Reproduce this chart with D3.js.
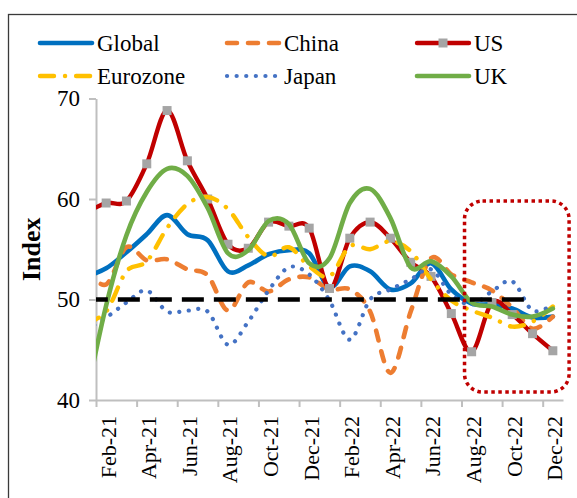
<!DOCTYPE html>
<html>
<head>
<meta charset="utf-8">
<script src="https://cdn.jsdelivr.net/npm/d3@7"></script>
<style>
  body { margin: 0; background: #fff; }
  svg, svg text { font-family: 'Liberation Serif', 'Times New Roman', 'DejaVu Serif', serif; }
</style>
</head>
<body>
<div id="chart"></div>
<script>
// Monthly composite index, Jan-21 .. Dec-22 (Jan-21 sits just left of the axis and is clipped)
const months = ["Jan-21","Feb-21","Mar-21","Apr-21","May-21","Jun-21","Jul-21","Aug-21","Sep-21","Oct-21","Nov-21","Dec-21",
                "Jan-22","Feb-22","Mar-22","Apr-22","May-22","Jun-22","Jul-22","Aug-22","Sep-22","Oct-22","Nov-22","Dec-22"];

const globalVals   = [52.3, 53.1, 54.7, 56.5, 58.4, 56.5, 55.9, 52.8, 53.4, 54.5, 54.9, 54.6, 51.2, 53.3, 52.8, 51.0, 51.6, 53.6, 51.0, 49.6, 49.5, 49.1, 48.2, 48.3];
const chinaVals    = [53.0, 51.5, 55.2, 53.9, 54.0, 53.0, 52.4, 48.9, 51.7, 50.8, 52.0, 52.2, 51.0, 51.0, 48.8, 42.7, 48.8, 54.1, 52.5, 51.7, 50.9, 49.2, 47.1, 48.3];
const usVals       = [58.6, 59.6, 59.8, 63.5, 68.8, 63.8, 60.0, 55.5, 55.1, 57.7, 57.3, 57.1, 51.1, 56.1, 57.7, 56.1, 53.7, 52.3, 48.6, 44.8, 49.7, 48.5, 46.6, 44.9];
const eurozoneVals = [47.7, 48.8, 52.8, 53.8, 57.1, 59.5, 60.2, 59.0, 56.2, 54.3, 55.2, 53.3, 52.3, 55.3, 55.0, 55.8, 54.8, 52.0, 49.9, 48.9, 48.2, 47.3, 47.8, 49.3];
const japanVals    = [47.0, 48.2, 49.7, 50.9, 48.8, 48.9, 48.8, 45.5, 47.8, 50.9, 53.2, 52.5, 49.9, 46.0, 50.0, 51.0, 52.0, 53.0, 50.5, 49.5, 50.8, 51.8, 48.9, 49.5];
const ukVals       = [40.0, 49.4, 56.4, 60.7, 63.0, 62.3, 59.1, 54.6, 54.9, 57.8, 57.5, 53.6, 54.1, 59.6, 61.0, 58.1, 53.2, 53.8, 52.3, 49.7, 49.3, 48.5, 48.3, 49.1];
const threshold    = 50;      // expansion / contraction line, drawn Jan-21 .. Nov-22
const thresholdEnd = 22;

const yTicks = [40, 50, 60, 70];
const labelIdx = d3.range(1, 24, 2);          // Feb-21, Apr-21, ... Dec-22
const tickIdx = d3.range(0.5, 23, 2);          // category boundaries every 2 months
const highlight = { from: 18.65, to: 23.8, top: 59.8, bottom: 40.8 };  // last months box

const FONT = "'Liberation Serif', 'Times New Roman', 'DejaVu Serif', serif";

const series = [
  { name: "Global",   values: globalVals,   color: "#0070C0", width: 4.6, dash: null, cap: "round" },
  { name: "China",    values: chinaVals,    color: "#ED7D31", width: 4.6, dash: "10,11", cap: "round" },
  { name: "US",       values: usVals,       color: "#C00000", width: 4.4, dash: null, cap: "round", marker: "#A5A5A5" },
  { name: "Eurozone", values: eurozoneVals, color: "#FFC000", width: 4.4, dash: "14,11,0.1,11", cap: "round" },
  { name: "Japan",    values: japanVals,    color: "#4472C4", width: 4.2, dash: "0.1,9.5", cap: "round" },
  { name: "UK",       values: ukVals,       color: "#70AD47", width: 4.6, dash: null, cap: "round" }
];

const width = 577, height = 498;
const plotLeft = 96, plotRight = 563, plotTop = 98.5, plotBottom = 400;

const svg = d3.select("#chart").append("svg")
  .attr("width", width)
  .attr("height", height)
  .attr("font-family", FONT);

// outer frame
svg.append("rect")
  .attr("x", 8.5).attr("y", 14.5)
  .attr("width", 620).attr("height", 600)
  .attr("fill", "none")
  .attr("stroke", "#3a3a3a")
  .attr("stroke-width", 1.3);

// Scales
const x = d3.scaleLinear().domain([0.5, 23.5]).range([plotLeft, plotRight]);
const y = d3.scaleLinear().domain([40, 70]).range([plotBottom, plotTop]);

// Axes
const yAxis = svg.append("g")
  .attr("transform", `translate(${plotLeft},0)`)
  .call(d3.axisLeft(y).tickValues(yTicks).tickSize(7).tickPadding(9).tickSizeOuter(0));
yAxis.attr("font-family", FONT).attr("font-size", 23);
yAxis.select(".domain").attr("stroke", "#BFBFBF").attr("stroke-width", 2);
yAxis.selectAll(".tick line").attr("stroke", "#BFBFBF").attr("stroke-width", 2);
yAxis.selectAll(".tick text").attr("fill", "#000");

const xAxis = svg.append("g")
  .attr("transform", `translate(0,${plotBottom})`)
  .call(d3.axisBottom(x).tickValues(tickIdx).tickSize(7).tickSizeOuter(0).tickFormat(""));
xAxis.select(".domain").attr("stroke", "#BFBFBF").attr("stroke-width", 2);
xAxis.selectAll(".tick line").attr("stroke", "#BFBFBF").attr("stroke-width", 2);

const xLabels = svg.append("g")
  .attr("transform", `translate(0,${plotBottom})`)
  .call(d3.axisBottom(x).tickValues(labelIdx).tickSize(0).tickFormat(i => months[i]));
xLabels.attr("font-family", FONT).attr("font-size", 22);
xLabels.select(".domain").remove();
xLabels.selectAll(".tick text")
  .attr("transform", "rotate(-90)")
  .attr("x", -16)
  .attr("y", 1)
  .attr("dy", "0.36em")
  .attr("text-anchor", "end")
  .attr("fill", "#000");

// Y axis title
svg.append("text")
  .attr("transform", "rotate(-90)")
  .attr("x", -(plotTop + plotBottom) / 2)
  .attr("y", 40)
  .attr("text-anchor", "middle")
  .attr("font-size", 26)
  .attr("font-weight", "bold")
  .text("Index");

// Lines
svg.append("clipPath").attr("id", "plot-clip")
  .append("rect")
  .attr("x", plotLeft).attr("y", 60)
  .attr("width", plotRight - plotLeft + 4).attr("height", plotBottom - 60);

const plot = svg.append("g").attr("clip-path", "url(#plot-clip)");

const line = d3.line()
  .x((d, i) => x(i))
  .y(d => y(d))
  .curve(d3.curveCardinal.tension(0));

series.forEach(s => {
  plot.append("path")
    .datum(s.values)
    .attr("fill", "none")
    .attr("stroke", s.color)
    .attr("stroke-width", s.width)
    .attr("stroke-linecap", s.cap)
    .attr("stroke-linejoin", "round")
    .attr("stroke-dasharray", s.dash)
    .attr("d", line);

  if (s.marker) {
    plot.selectAll(null)
      .data(s.values)
      .enter()
      .append("rect")
      .attr("x", (d, i) => x(i) - 4.5)
      .attr("y", d => y(d) - 4.5)
      .attr("width", 9)
      .attr("height", 9)
      .attr("fill", s.marker);
  }
});

// 50 threshold line
plot.append("path")
  .datum(d3.range(0, thresholdEnd + 1).map(() => threshold))
  .attr("fill", "none")
  .attr("stroke", "#000")
  .attr("stroke-width", 4.5)
  .attr("stroke-dasharray", "22,10")
  .attr("d", d3.line().x((d, i) => x(i)).y(d => y(d)));

// highlight box
svg.append("rect")
  .attr("x", x(highlight.from))
  .attr("y", y(highlight.top))
  .attr("width", x(highlight.to) - x(highlight.from))
  .attr("height", y(highlight.bottom) - y(highlight.top))
  .attr("rx", 18).attr("ry", 18)
  .attr("fill", "none")
  .attr("stroke", "#C00000")
  .attr("stroke-width", 3.5)
  .attr("stroke-dasharray", "3.5,3.5");

// Legend (3 columns x 2 rows)
const legendCols = [38, 225, 415];
const legendRows = [43, 76];
const legend = svg.append("g");

series.forEach((s, i) => {
  const lx = legendCols[i % 3];
  const ly = legendRows[Math.floor(i / 3)];
  const g = legend.append("g").attr("transform", `translate(${lx},${ly})`);
  g.append("line")
    .attr("x1", 2).attr("x2", 54)
    .attr("y1", 0).attr("y2", 0)
    .attr("stroke", s.color)
    .attr("stroke-width", s.width)
    .attr("stroke-linecap", s.cap)
    .attr("stroke-dasharray", s.dash);
  if (s.marker) {
    g.append("rect")
      .attr("x", 28 - 4.5).attr("y", -4.5)
      .attr("width", 9).attr("height", 9)
      .attr("fill", s.marker);
  }
  g.append("text")
    .attr("x", 59)
    .attr("y", 0)
    .attr("dy", "0.33em")
    .attr("font-size", 23)
    .text(s.name);
});
</script>
</body>
</html>
